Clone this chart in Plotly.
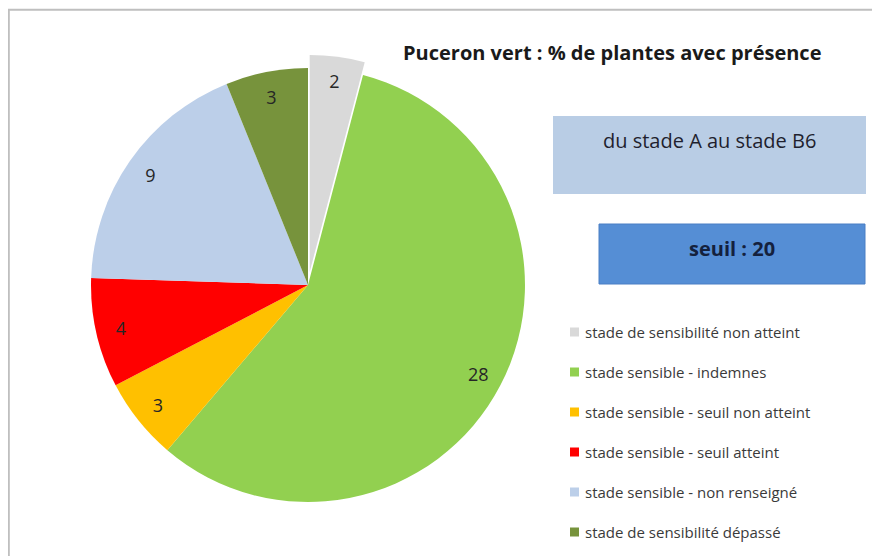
import plotly.graph_objects as go

categories = [
    "stade de sensibilité non atteint",
    "stade sensible - indemnes",
    "stade sensible - seuil non atteint",
    "stade sensible - seuil atteint",
    "stade sensible - non renseigné",
    "stade de sensibilité dépassé",
]
values = [2, 28, 3, 4, 9, 3]
colors = ["#d9d9d9", "#92d050", "#ffc000", "#ff0000", "#bccfe9", "#77933c"]
pulls = [0.06, 0, 0, 0, 0, 0]

title_text = "Puceron vert : % de plantes avec présence"
stage_text = "du stade A au stade B6"
threshold_text = "seuil : 20"

FONT = "'Open Sans', Lato, sans-serif"
OFF = 8            # page body margin
W, H = 880 - OFF, 556 - OFF

def px(x):
    return (x - OFF) / W

def py(y):
    return 1 - (y - OFF) / H

pie_domain = dict(x=[px(78), px(538)], y=[py(515), py(55)])

fig = go.Figure()

# the pie
fig.add_trace(go.Pie(
    labels=categories,
    values=values,
    sort=False,
    direction="clockwise",
    rotation=0,
    pull=pulls,
    marker=dict(colors=colors, line=dict(width=0)),
    textinfo="none",
    hoverinfo="label+value",
    showlegend=False,
    domain=pie_domain,
))

# transparent ring on top carrying the value labels near the outer edge
fig.add_trace(go.Pie(
    labels=categories,
    values=values,
    sort=False,
    direction="clockwise",
    rotation=0,
    pull=pulls,
    hole=0.77,
    marker=dict(colors=["rgba(0,0,0,0)"] * len(values), line=dict(width=0)),
    textinfo="value",
    textposition="inside",
    insidetextorientation="horizontal",
    insidetextfont=dict(family=FONT, size=18, color="#262626"),
    hoverinfo="skip",
    showlegend=False,
    domain=pie_domain,
))

fig.update_layout(
    width=W, height=H,
    margin=dict(l=0, r=0, t=0, b=0),
    paper_bgcolor="white",
    plot_bgcolor="white",
)

shapes = []
annotations = []

# outer frame
shapes.append(dict(type="rect", xref="paper", yref="paper",
                   x0=0.8 / W, x1=1.02, y0=-0.02, y1=1 - 1.8 / H,
                   line=dict(color="#bfbfbf", width=2), fillcolor="rgba(0,0,0,0)"))

# title
annotations.append(dict(text="<b>" + title_text + "</b>", xref="paper", yref="paper",
                        x=px(612), y=py(53), xanchor="center", yanchor="middle",
                        showarrow=False, font=dict(family=FONT, size=20, color="#1a1a1a")))

# stage box
shapes.append(dict(type="rect", xref="paper", yref="paper",
                   x0=px(553), x1=px(866), y0=py(194), y1=py(116),
                   line=dict(width=0), fillcolor="#b9cde5", layer="below"))
annotations.append(dict(text=stage_text, xref="paper", yref="paper",
                        x=px(709), y=py(140), xanchor="center", yanchor="middle",
                        showarrow=False, font=dict(family=FONT, size=20, color="#1f1f2e")))

# threshold box
shapes.append(dict(type="rect", xref="paper", yref="paper",
                   x0=px(599), x1=px(865), y0=py(284), y1=py(224),
                   line=dict(color="#4a7fc4", width=1), fillcolor="#558ed5", layer="below"))
annotations.append(dict(text="<b>" + threshold_text + "</b>", xref="paper", yref="paper",
                        x=px(732), y=py(248), xanchor="center", yanchor="middle",
                        showarrow=False, font=dict(family=FONT, size=20, color="#14213d")))

# legend
leg_y0, leg_dy = 332, 40
for i, (cat, col) in enumerate(zip(categories, colors)):
    yc = leg_y0 + i * leg_dy
    shapes.append(dict(type="rect", xref="paper", yref="paper",
                       x0=px(570), x1=px(579), y0=py(yc + 4.5), y1=py(yc - 4.5),
                       line=dict(width=0), fillcolor=col))
    annotations.append(dict(text=cat, xref="paper", yref="paper",
                            x=px(583), y=py(yc), xanchor="left", yanchor="middle",
                            showarrow=False, font=dict(family=FONT, size=15, color="#3a3a3a")))

fig.update_layout(shapes=shapes, annotations=annotations)

fig.write_html("out.html")
